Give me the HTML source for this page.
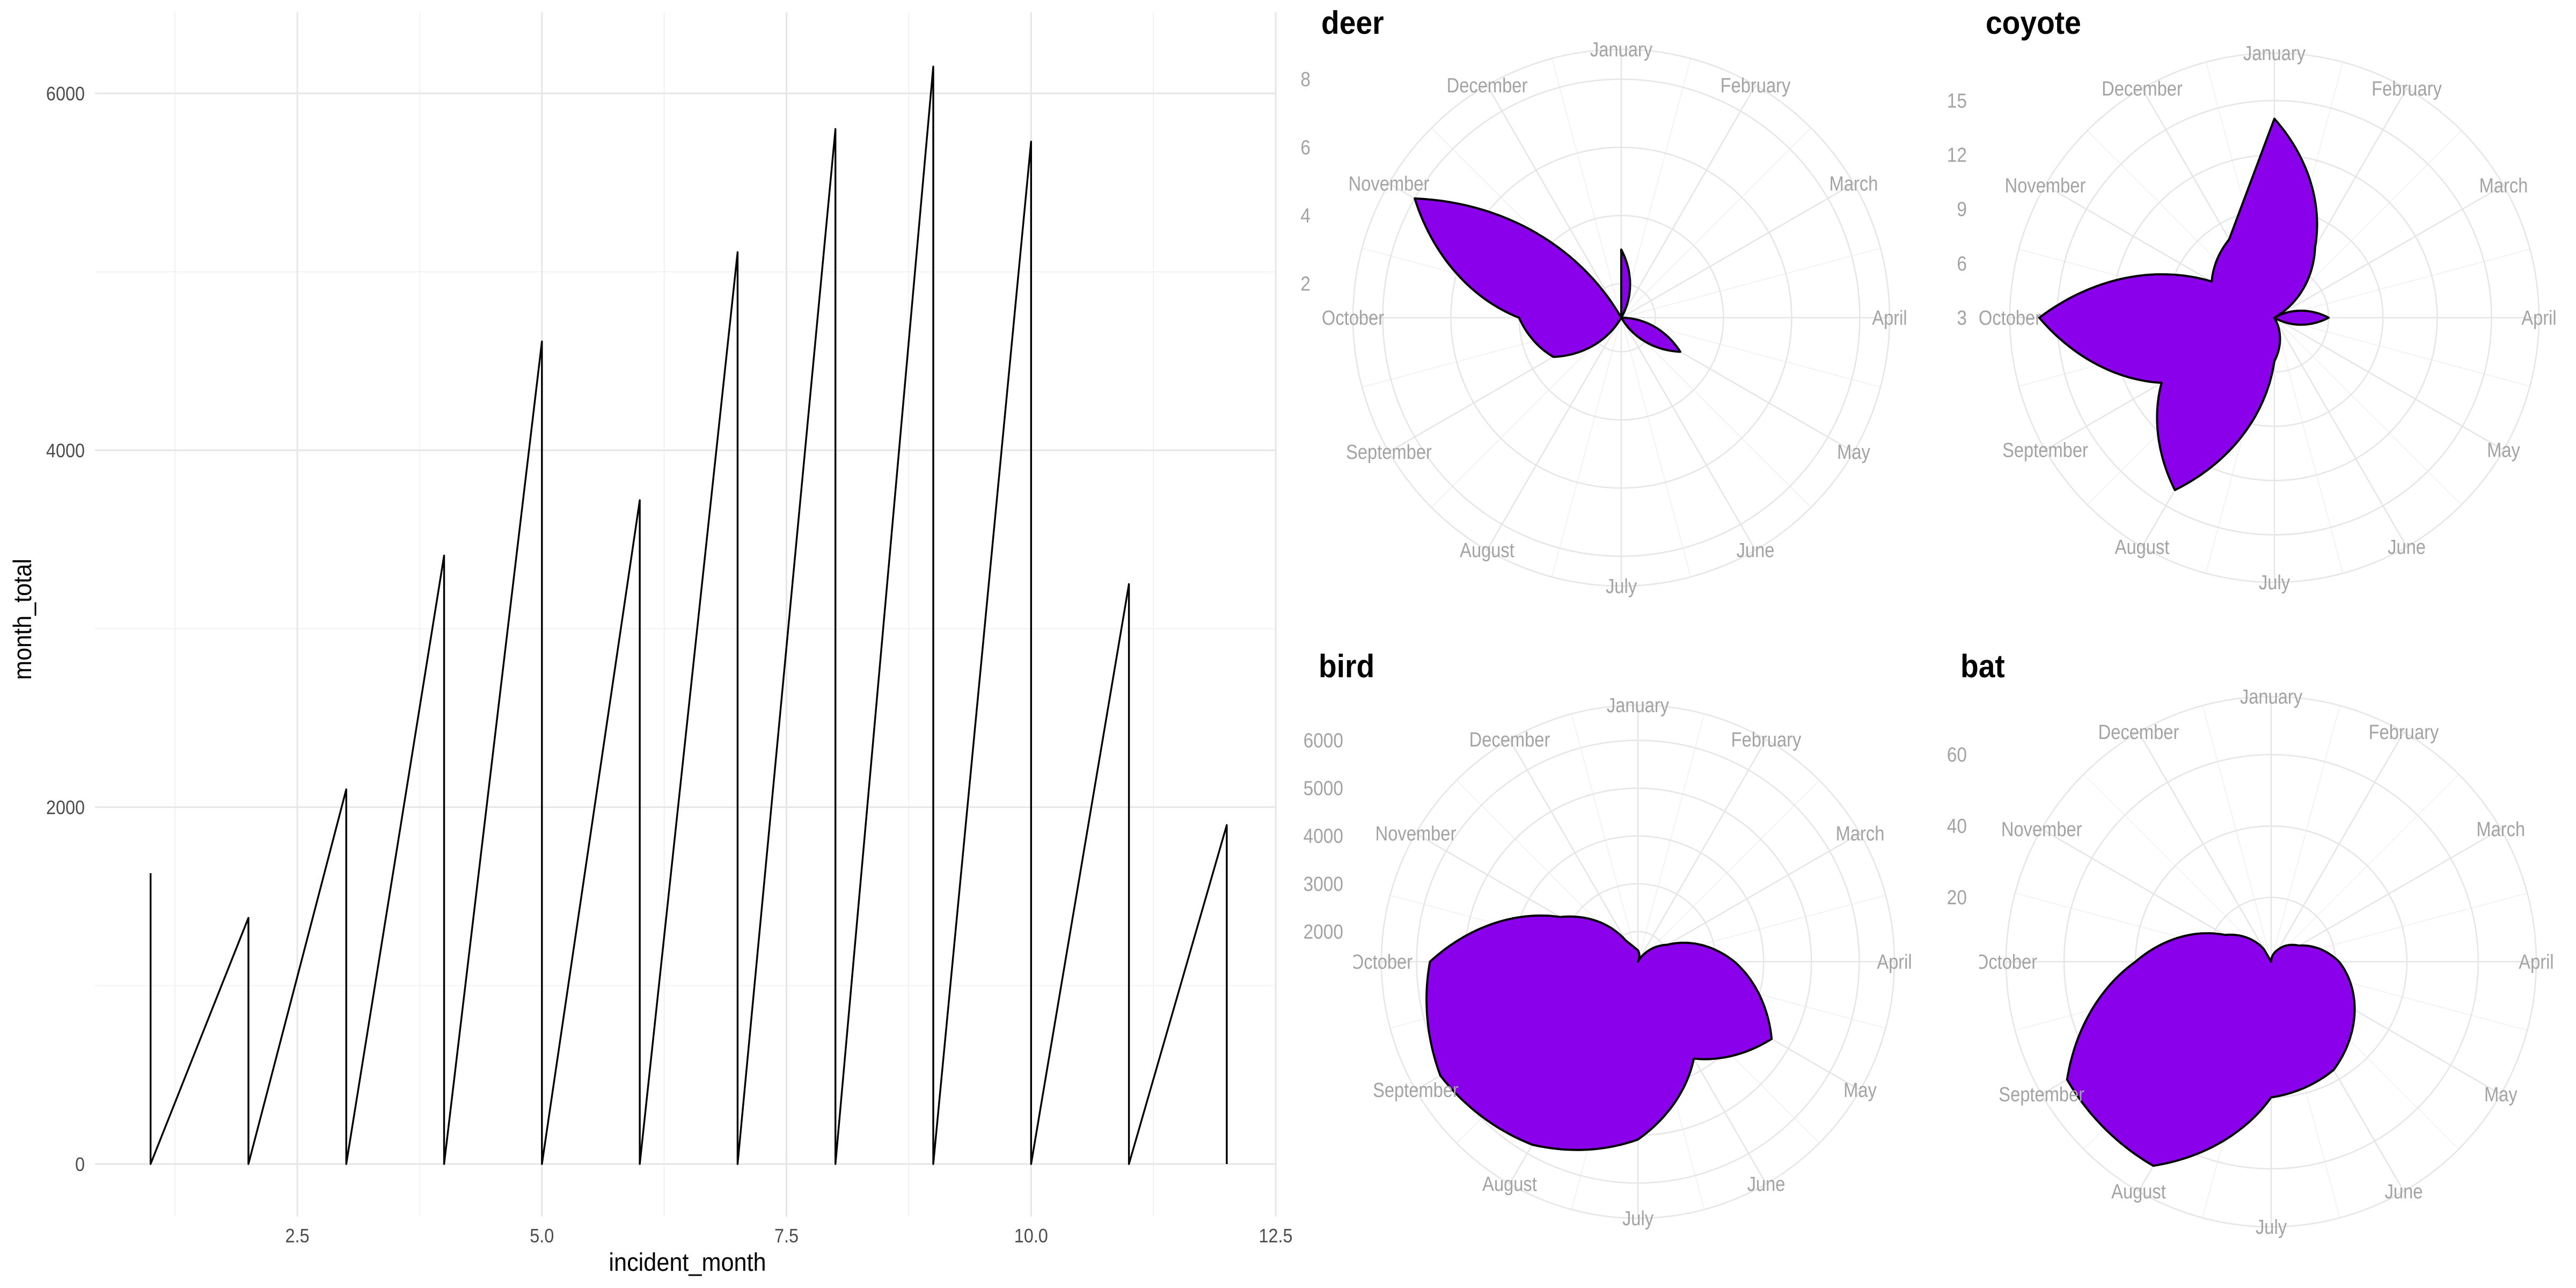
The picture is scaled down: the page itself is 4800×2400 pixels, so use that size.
<!DOCTYPE html>
<html><head><meta charset="utf-8"><style>
html,body{margin:0;padding:0;background:#fff;}
svg{display:block;}
text{font-family:"Liberation Sans",sans-serif;}
</style></head>
<body>
<svg id="root" width="4800" height="2400" viewBox="0 0 4800 2400" xmlns="http://www.w3.org/2000/svg">
<defs>
<clipPath id="clipDeer"><rect x="2458" y="0" width="1200" height="1200"/></clipPath>
<clipPath id="clipCoyote"><rect x="3688" y="0" width="1112" height="1200"/></clipPath>
<clipPath id="clipBird"><rect x="2522" y="1200" width="1160" height="1200"/></clipPath>
<clipPath id="clipBat"><rect x="3688" y="1200" width="1112" height="1200"/></clipPath>
</defs>
<g id="left"></g>
<g id="polar"></g>
</svg>
<script>
// ---- line chart data ----
const lineMonths = [1,2,3,4,5,6,7,8,9,10,11,12];
const lineTotals = [1630,1380,2100,3410,4610,3720,5110,5800,6150,5730,3250,1900];
const xTickValues = [2.5,5.0,7.5,10.0,12.5];
const xTickLabels = ["2.5","5.0","7.5","10.0","12.5"];
const yTickValues = [0,2000,4000,6000];
const yTickLabels = ["0","2000","4000","6000"];
const xMinorValues = [1.25,3.75,6.25,8.75,11.25];
const yMinorValues = [1000,3000,5000];

// ---- polar data ----
const monthNames = ["January","February","March","April","May","June","July","August","September","October","November","December"];
const deerValues = [3,1,1,1,3,1,1,1,3.3,4,8,1];
const coyoteValues = [14,7.5,3,6,3,3,5.4,14,10.2,16,7,8];
const birdValues = [1610,1370,2080,3390,4600,3710,5090,5790,6140,5720,3240,1890];
const batValues = [2,6,11,21,29,37,40,68,68,40,17,6];
const deerTicks = [2,4,6,8];
const coyoteTicks = [3,6,9,12,15];
const birdTicks = [2000,3000,4000,5000,6000];
const batTicks = [20,40,60];

const NS = "http://www.w3.org/2000/svg";
function mk(tag, attrs, parent){
  const e = document.createElementNS(NS, tag);
  for (const k in attrs) e.setAttribute(k, attrs[k]);
  if (parent) parent.appendChild(e);
  return e;
}

// ---------- left line chart ----------
const left = document.getElementById('left');
const X0 = 280.6, XS = 182.3, Y0 = 2169, YS = (2169 - 174) / 6000;
const sx = v => X0 + (v - 1) * XS;
const sy = v => Y0 - v * YS;
const PL = 177, PR = 2377, PT = 23, PB = 2267;

xMinorValues.forEach(v => {
  const l = mk('line', {x1:sx(v), x2:sx(v), y1:PT, y2:PB, stroke:'#efefef', 'stroke-width':1.6}, left);
  
  
});
yMinorValues.forEach(v => {
  const l = mk('line', {x1:PL, x2:PR, y1:sy(v), y2:sy(v), stroke:'#efefef', 'stroke-width':1.6}, left);
  
  
});
xTickValues.forEach((v, i) => {
  const l = mk('line', {x1:sx(v), x2:sx(v), y1:PT, y2:PB, stroke:'#e6e6e6', 'stroke-width':3}, left);
  
  
  const t = mk('text', {x:0, y:0, 'text-anchor':'middle', 'font-size':36, fill:'#4d4d4d', transform:'translate(' + sx(v) + ',2315) scale(0.9,1)'}, left);
  t.textContent = xTickLabels[i];
  
  
});
yTickValues.forEach((v, i) => {
  const l = mk('line', {x1:PL, x2:PR, y1:sy(v), y2:sy(v), stroke:'#e6e6e6', 'stroke-width':3}, left);
  
  
  const t = mk('text', {x:0, y:0, 'text-anchor':'end', 'font-size':36, fill:'#4d4d4d', transform:'translate(158,' + (sy(v) + 13) + ') scale(0.9,1)'}, left);
  t.textContent = yTickLabels[i];
  
  
});
let pts = [];
lineMonths.forEach((m, i) => {
  pts.push(sx(m).toFixed(1) + ',' + sy(lineTotals[i]).toFixed(1));
  pts.push(sx(m).toFixed(1) + ',' + sy(0).toFixed(1));
});
const pl = mk('polyline', {points: pts.join(' '), fill:'none', stroke:'#000', 'stroke-width':3.4, 'stroke-linejoin':'round'}, left);


const xt = mk('text', {x:0, y:0, 'text-anchor':'middle', 'font-size':47, fill:'#000', transform:'translate(1281,2368) scale(0.92,1)'}, left);
xt.textContent = 'incident_month';


const yt = mk('text', {x:0, y:0, 'text-anchor':'middle', 'font-size':47, fill:'#000', transform:'translate(58,1154) rotate(-90) scale(0.92,1)'}, left);
yt.textContent = 'month_total';



// ---------- polar charts ----------
const polar = document.getElementById('polar');
function drawPolar(name, values, ticks, cx, cy, outer, labelRight, title, titleX, titleY, clip){
  const g = mk('g', {}, polar);
  
  
  const gc = mk('g', {'clip-path':'url(#' + clip + ')'}, g);
  const vmin = Math.min(...values), vmax = Math.max(...values);
  const R = outer * 0.4 / 0.45;
  const sr = v => (v - vmin) / (vmax - vmin) * R;
  const pos = (ang, r) => [cx + r * Math.sin(ang * Math.PI / 180), cy - r * Math.cos(ang * Math.PI / 180)];
  for (let i = 0; i < 12; i++) {
    const p = pos(i * 30 + 15, outer);
    const l = mk('line', {x1:cx, y1:cy, x2:p[0], y2:p[1], stroke:'#f0f0f0', 'stroke-width':1.6}, gc);
    
    
  }
  for (let i = 0; i < 12; i++) {
    const p = pos(i * 30, outer);
    const l = mk('line', {x1:cx, y1:cy, x2:p[0], y2:p[1], stroke:'#e6e6e6', 'stroke-width':2.6}, gc);
    
    
  }
  ticks.forEach(t => {
    const c = mk('circle', {cx:cx, cy:cy, r:Math.max(0, sr(t)), fill:'none', stroke:'#e6e6e6', 'stroke-width':2.6}, gc);
    
    
  });
  const oc = mk('circle', {cx:cx, cy:cy, r:outer, fill:'none', stroke:'#e6e6e6', 'stroke-width':2.6}, gc);
  
  
  // shape: spiral segments Jan..Dec, straight closing edge Dec->Jan
  let d = [];
  for (let i = 0; i < 11; i++) {
    const v0 = values[i], v1 = values[i + 1];
    for (let s = 0; s < 30; s++) {
      const f = s / 30;
      const p = pos(i * 30 + f * 30, sr(v0 + (v1 - v0) * f));
      d.push(p[0].toFixed(1) + ',' + p[1].toFixed(1));
    }
  }
  const pEnd = pos(330, sr(values[11]));
  d.push(pEnd[0].toFixed(1) + ',' + pEnd[1].toFixed(1));
  const shape = mk('polygon', {points:d.join(' '), fill:'#8a00ea', stroke:'#000', 'stroke-width':4, 'stroke-linejoin':'round'}, gc);
  
  
  monthNames.forEach((m, i) => {
    const p = pos(i * 30, outer);
    const t = mk('text', {x:0, y:0, 'text-anchor':'middle', 'font-size':38, fill:'#a3a3a3', transform:'translate(' + p[0].toFixed(1) + ',' + (p[1] + 13).toFixed(1) + ') scale(0.86,1)'}, gc);
    t.textContent = m;
    
    
  });
  ticks.forEach(tv => {
    const t = mk('text', {x:0, y:0, 'text-anchor':'end', 'font-size':38, fill:'#a3a3a3', transform:'translate(' + labelRight + ',' + (cy - sr(tv) + 13).toFixed(1) + ') scale(0.88,1)'}, g);
    t.textContent = String(tv);
    
    
  });
  const tt = mk('text', {x:0, y:0, 'font-size':60, 'font-weight':'bold', fill:'#000', transform:'translate(' + titleX + ',' + titleY + ') scale(0.92,1)'}, g);
  tt.textContent = title;
  
  
}
drawPolar('deer', deerValues, deerTicks, 3021, 592, 500, 2442, 'deer', 2462, 63, 'clipDeer');
drawPolar('coyote', coyoteValues, coyoteTicks, 4238, 592, 493, 3665, 'coyote', 3700, 63, 'clipCoyote');
drawPolar('bird', birdValues, birdTicks, 3052, 1792, 478, 2503, 'bird', 2457, 1262, 'clipBird');
drawPolar('bat', batValues, batTicks, 4232, 1792, 494, 3665, 'bat', 3653, 1262, 'clipBat');
</script>
</body></html>
